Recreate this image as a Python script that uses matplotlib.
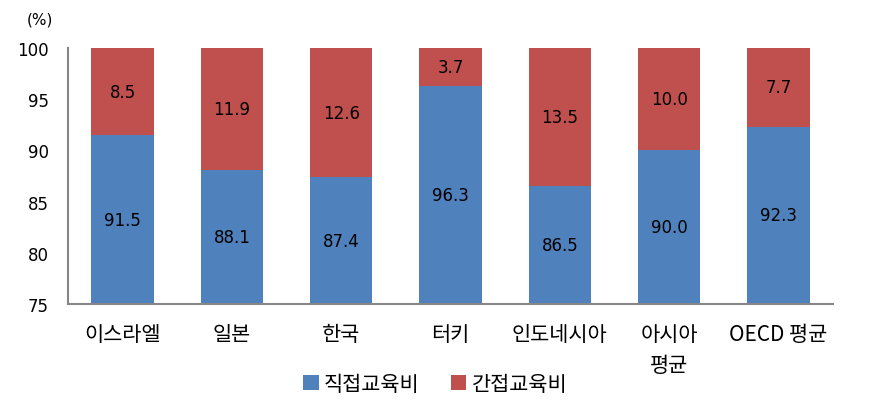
import numpy as np
import matplotlib.pyplot as plt

plt.rcParams['font.family'] = ['Noto Sans CJK KR', 'DejaVu Sans']

categories = ['이스라엘', '일본', '한국', '터키', '인도네시아', '아시아\n평균', 'OECD 평균']
direct = [91.5, 88.1, 87.4, 96.3, 86.5, 90.0, 92.3]
indirect = [8.5, 11.9, 12.6, 3.7, 13.5, 10.0, 7.7]
blue = '#4F81BD'
red = '#C0504D'
numfont = 'DejaVu Sans'

fig = plt.figure(figsize=(8.81, 4.10), dpi=100)
ax = fig.add_axes([68/881, 1-305/410, (833-68)/881, (305-49)/410])

x = np.arange(len(categories))
base = 75
ax.bar(x, np.array(direct) - base, bottom=base, width=0.57, color=blue, label='직접교육비')
ax.bar(x, indirect, bottom=direct, width=0.57, color=red, label='간접교육비')

for i in range(len(x)):
    ax.text(x[i], (base + direct[i]) / 2, f'{direct[i]:.1f}', ha='center', va='center',
            fontsize=12, family=numfont)
    ax.text(x[i], direct[i] + indirect[i] / 2, f'{indirect[i]:.1f}', ha='center', va='center',
            fontsize=12, family=numfont)

ax.set_xlim(-0.5, len(x) - 0.5)
ax.set_ylim(75, 100)
ax.set_yticks([75, 80, 85, 90, 95, 100])
ax.set_yticklabels(['75', '80', '85', '90', '95', '100'], family=numfont, fontsize=12)
ax.set_xticks(x)
ax.set_xticklabels(categories, fontsize=15, linespacing=1.5, va='top')
ax.tick_params(axis='y', length=0, pad=14)
ax.tick_params(axis='x', length=0, pad=14)
for s in ['top', 'right']:
    ax.spines[s].set_visible(False)
for s in ['left', 'bottom']:
    ax.spines[s].set_color('#868686')
    ax.spines[s].set_linewidth(1.5)

fig.text(40/881, 1-20/410, '(%)', ha='center', va='center', fontsize=11, family=numfont)

fig.legend(loc='center', bbox_to_anchor=(435/881, 1-385/410), ncol=2, frameon=False,
           fontsize=15, handlelength=0.75, handleheight=0.7, handletextpad=0.25, columnspacing=1.5)

fig.savefig('out.png', dpi=100)
